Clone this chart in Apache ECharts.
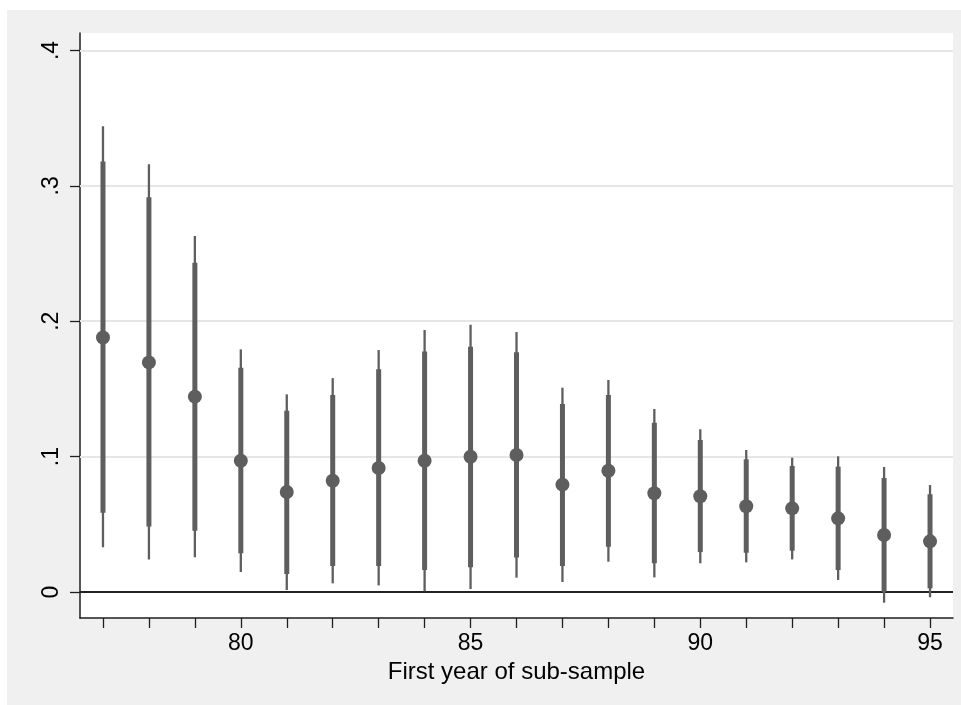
<!DOCTYPE html>
<html>
<head>
<meta charset="utf-8">
<script src="https://cdn.jsdelivr.net/npm/echarts@6/dist/echarts.min.js"></script>
<style>
html,body{margin:0;padding:0;background:#fff;}
#chart{width:961px;height:705px;}
</style>
</head>
<body>
<div id="chart"></div>
<script>
const years = ['77','78','79','80','81','82','83','84','85','86','87','88','89','90','91','92','93','94','95'];
const xLabelYears = ['80','85','90','95'];
const estimate = [0.188,0.1696,0.1443,0.097,0.0739,0.0822,0.0916,0.097,0.0999,0.1012,0.0793,0.0896,0.0729,0.0707,0.0633,0.0618,0.0544,0.0421,0.0374];
const innerLo = [0.0586,0.0483,0.0453,0.0286,0.0133,0.0192,0.0192,0.0162,0.0182,0.0254,0.0192,0.0335,0.0212,0.0295,0.029,0.0305,0.0162,0.0002,0.0027];
const innerHi = [0.318,0.2915,0.2432,0.1657,0.1339,0.1455,0.1645,0.1777,0.1812,0.177,0.1388,0.1455,0.125,0.1123,0.098,0.0931,0.0926,0.0842,0.0722];
const outerLo = [0.033,0.0241,0.0256,0.0148,0.0015,0.0064,0.0049,0.0005,0.0022,0.0106,0.0074,0.0224,0.0108,0.0212,0.0219,0.0241,0.0089,-0.0079,-0.0039];
const outerHi = [0.344,0.316,0.263,0.1792,0.146,0.158,0.1787,0.1935,0.1974,0.192,0.1509,0.1566,0.1352,0.1202,0.1049,0.0992,0.1002,0.0923,0.079];
const yTicks = [0, 0.1, 0.2, 0.3, 0.4];
const yTickLabels = ['0', '.1', '.2', '.3', '.4'];
const gridVals = [0.1, 0.2, 0.3, 0.4];
const xTitle = 'First year of sub-sample';

const markColor = '#5e5e5e';
const axisColor = '#1f1f1f';
const font = '"Liberation Sans", Arial, Helvetica, sans-serif';

function rangeItem(width) {
  return function (params, api) {
    const x = api.value(0);
    const a = api.coord([x, api.value(1)]);
    const b = api.coord([x, api.value(2)]);
    return {
      type: 'line',
      shape: { x1: a[0], y1: a[1], x2: b[0], y2: b[1] },
      style: { stroke: markColor, lineWidth: width }
    };
  };
}

const chart = echarts.init(document.getElementById('chart'), null, { renderer: 'canvas' });
chart.setOption({
  animation: false,
  backgroundColor: '#ffffff',
  graphic: {
    elements: [{
      type: 'rect', z: -100, silent: true,
      shape: { x: 7, y: 10, width: 954, height: 695 },
      style: { fill: '#F0F0F0' }
    }]
  },
  grid: {
    left: 80, right: 8, top: 33, bottom: 87,
    show: true, backgroundColor: '#ffffff', borderWidth: 0
  },
  xAxis: {
    type: 'category',
    data: years,
    boundaryGap: true,
    name: xTitle,
    nameLocation: 'middle',
    nameGap: 39,
    nameTextStyle: { fontFamily: font, fontSize: 24, color: '#000' },
    axisLine: { show: true, onZero: false, lineStyle: { color: axisColor, width: 1.5 } },
    axisTick: { show: true, alignWithLabel: true, interval: 0, length: 10, lineStyle: { color: axisColor, width: 1.3 } },
    axisLabel: {
      interval: function (idx, val) { return xLabelYears.indexOf(val) >= 0; },
      margin: 14, fontFamily: font, fontSize: 23, color: '#000'
    },
    splitLine: { show: false }
  },
  yAxis: {
    type: 'value',
    min: -0.0192,
    max: 0.4129,
    axisLine: { show: true, onZero: false, lineStyle: { color: axisColor, width: 1.5 } },
    axisTick: { show: true, customValues: yTicks, length: 10, lineStyle: { color: axisColor, width: 1.3 } },
    axisLabel: {
      customValues: yTicks,
      rotate: 90,
      margin: 17,
      fontFamily: font, fontSize: 23, color: '#000',
      formatter: function (v) {
        for (let i = 0; i < yTicks.length; i++) {
          if (Math.abs(yTicks[i] - v) < 1e-9) return yTickLabels[i];
        }
        return '';
      }
    },
    splitLine: { show: false }
  },
  series: [
    {
      type: 'custom',
      name: 'outer',
      z: 2,
      renderItem: rangeItem(2.3),
      encode: { x: 0, y: [1, 2] },
      data: years.map((y, i) => [i, outerLo[i], outerHi[i]]),
      markLine: {
        silent: true,
        z: 1,
        symbol: 'none',
        label: { show: false },
        animation: false,
        lineStyle: { color: '#E6E6E6', width: 1.8, type: 'solid' },
        data: gridVals.map(v => ({ yAxis: v })).concat([
          { yAxis: 0, lineStyle: { color: '#222222', width: 2, type: 'solid' } }
        ])
      }
    },
    {
      type: 'custom',
      name: 'inner',
      z: 3,
      renderItem: rangeItem(5),
      encode: { x: 0, y: [1, 2] },
      data: years.map((y, i) => [i, innerLo[i], innerHi[i]])
    },
    {
      type: 'scatter',
      name: 'estimate',
      z: 4,
      symbol: 'circle',
      symbolSize: 14,
      itemStyle: { color: markColor, opacity: 1 },
      data: estimate
    }
  ]
});
</script>
</body>
</html>
